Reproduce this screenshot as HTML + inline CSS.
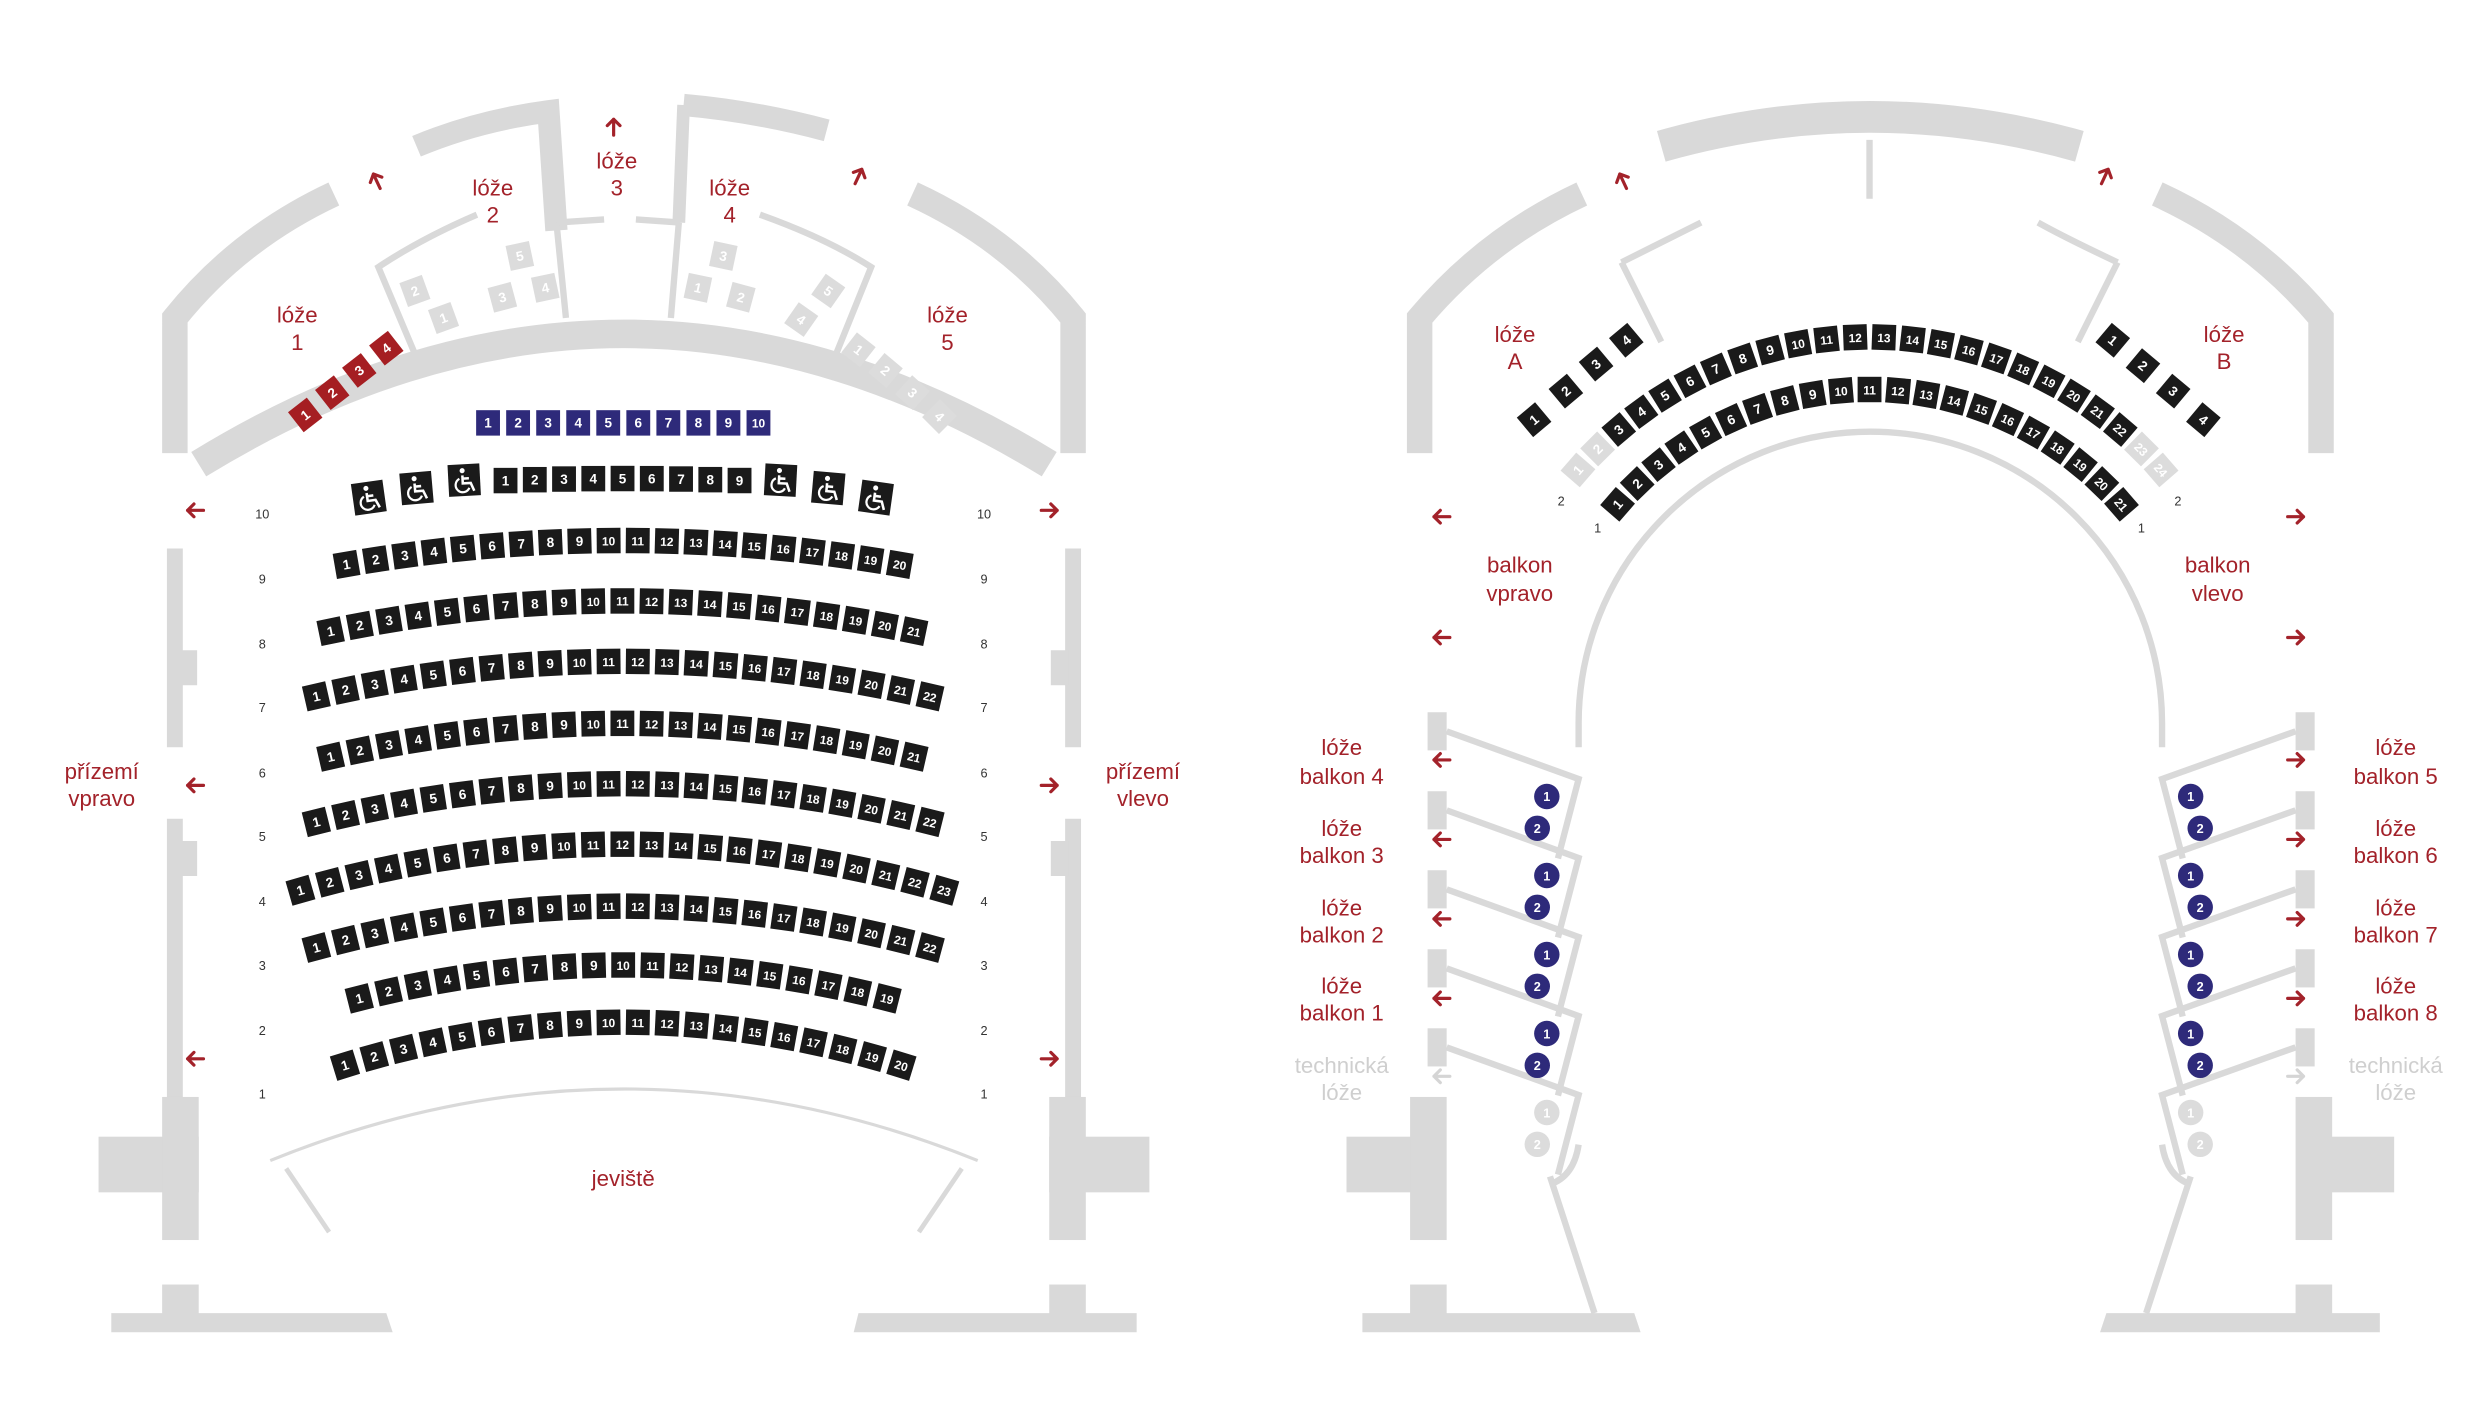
<!DOCTYPE html>
<html><head><meta charset="utf-8"><style>
html,body{margin:0;padding:0;background:#fff;width:2480px;height:1403px;overflow:hidden}
svg{display:block}
text{font-family:"Liberation Sans",sans-serif}
.lb{fill:#a3222a;font-size:14px;text-anchor:middle}
.gl{fill:#cfcfcf;font-size:14px;text-anchor:middle}
.rn{fill:#333;font-size:8px;text-anchor:middle}
</style></head><body>
<svg id="s" width="2480" height="1403" viewBox="0 0 1560 882.5" xmlns="http://www.w3.org/2000/svg">
<g fill="none" stroke="#d9d9d9" stroke-linejoin="miter">
<path d="M210,122 Q150,150 110,200 L110,285" stroke-width="16"/>
<path d="M574,122 Q635,150 675,200 L675,285" stroke-width="16"/>
<path d="M262,92 Q300,76 345,70 L350,145" stroke-width="14"/>
<path d="M430,66 Q475,70 520,82" stroke-width="14"/>
<path d="M430,66 L427,140" stroke-width="8"/>
<path d="M350,140 L380,138 M400,138 L428,140" stroke-width="4"/>
<path d="M350,140 L356,200 M427,140 L422,200" stroke-width="4"/>
<path d="M300,135 Q265,150 238,168 L262,225" stroke-width="4"/>
<path d="M478,135 Q520,150 548,168 L525,225" stroke-width="4"/>
<path d="M125,292 Q392,128 660,292" stroke-width="18"/>
<path d="M110,345 L110,470 M110,515 L110,690 M675,345 L675,470 M675,515 L675,690" stroke-width="10"/>
<path d="M113,420 L124,420 M113,540 L124,540 M672,420 L661,420 M672,540 L661,540" stroke-width="22"/>
<path d="M170,730 Q392,640 615,730" stroke-width="2"/>
<path d="M180,735 L207,775 M605,735 L578,775" stroke-width="3"/>
<path d="M995,122 Q935,150 893,200 L893,285" stroke-width="16"/>
<path d="M1357,122 Q1418,150 1460,200 L1460,285" stroke-width="16"/>
<path d="M1045,92 Q1176,55 1308,92" stroke-width="20"/>
<path d="M1176,88 L1176,125" stroke-width="4"/>
<path d="M1020,165 Q1050,150 1070,140 M1020,165 L1045,215 M1332,165 Q1300,150 1282,140 M1332,165 L1307,215" stroke-width="4"/>
<path d="M993,470 L993,455 A183,183 0 0 1 1360,455 L1360,470" stroke-width="4"/>
</g>
<g fill="#d9d9d9">
<rect x="62" y="715" width="63" height="35"/><rect x="102" y="690" width="23" height="90"/>
<rect x="102" y="808" width="23" height="20"/><polygon points="70,826 243,826 247,838 70,838"/>
<rect x="660" y="715" width="63" height="35"/><rect x="660" y="690" width="23" height="90"/>
<rect x="660" y="808" width="23" height="20"/><polygon points="540,826 715,826 715,838 537,838"/>
<rect x="847" y="715" width="60" height="35"/><rect x="887" y="690" width="23" height="90"/>
<rect x="887" y="808" width="23" height="20"/><polygon points="857,826 1028,826 1032,838 857,838"/>
<rect x="1446" y="715" width="60" height="35"/><rect x="1444" y="690" width="23" height="90"/>
<rect x="1444" y="808" width="23" height="20"/><polygon points="1325,826 1497,826 1497,838 1321,838"/>
</g>
<g id="boxes" fill="none" stroke="#d9d9d9" stroke-width="4"></g>
<g id="seats"></g>
<g id="arrows" fill="none" stroke-width="2" stroke-linecap="round" stroke-linejoin="round"></g>
<g class="lb">
<text x="187" y="203">lóže</text><text x="187" y="220">1</text>
<text x="310" y="123">lóže</text><text x="310" y="140">2</text>
<text x="388" y="106">lóže</text><text x="388" y="123">3</text>
<text x="459" y="123">lóže</text><text x="459" y="140">4</text>
<text x="596" y="203">lóže</text><text x="596" y="220">5</text>
<text x="64" y="490">přízemí</text><text x="64" y="507">vpravo</text>
<text x="719" y="490">přízemí</text><text x="719" y="507">vlevo</text>
<text x="392" y="746">jeviště</text>
<text x="953" y="215">lóže</text><text x="953" y="232">A</text>
<text x="1399" y="215">lóže</text><text x="1399" y="232">B</text>
<text x="956" y="360">balkon</text><text x="956" y="378">vpravo</text>
<text x="1395" y="360">balkon</text><text x="1395" y="378">vlevo</text>
<text x="844" y="475">lóže</text><text x="844" y="493">balkon 4</text>
<text x="844" y="526">lóže</text><text x="844" y="543">balkon 3</text>
<text x="844" y="576">lóže</text><text x="844" y="593">balkon 2</text>
<text x="844" y="625">lóže</text><text x="844" y="642">balkon 1</text>
<text x="1507" y="475">lóže</text><text x="1507" y="493">balkon 5</text>
<text x="1507" y="526">lóže</text><text x="1507" y="543">balkon 6</text>
<text x="1507" y="576">lóže</text><text x="1507" y="593">balkon 7</text>
<text x="1507" y="625">lóže</text><text x="1507" y="642">balkon 8</text>
</g>
<g class="gl"><text x="844" y="675">technická</text><text x="844" y="692">lóže</text>
<text x="1507" y="675">technická</text><text x="1507" y="692">lóže</text></g>
<g class="rn">
<text x="165" y="326">10</text><text x="165" y="367">9</text><text x="165" y="408">8</text><text x="165" y="448">7</text><text x="165" y="489">6</text><text x="165" y="529">5</text><text x="165" y="570">4</text><text x="165" y="610">3</text><text x="165" y="651">2</text><text x="165" y="691">1</text>
<text x="619" y="326">10</text><text x="619" y="367">9</text><text x="619" y="408">8</text><text x="619" y="448">7</text><text x="619" y="489">6</text><text x="619" y="529">5</text><text x="619" y="570">4</text><text x="619" y="610">3</text><text x="619" y="651">2</text><text x="619" y="691">1</text>
<text x="982" y="318">2</text><text x="1005" y="335">1</text><text x="1370" y="318">2</text><text x="1347" y="335">1</text>
</g>
</svg>
<script>
var NS="http://www.w3.org/2000/svg",S=document.getElementById("seats"),B=document.getElementById("boxes"),A=document.getElementById("arrows");
function el(t,a,p){var e=document.createElementNS(NS,t);for(var k in a)e.setAttribute(k,a[k]);(p||S).appendChild(e);return e;}
function seat(x,y,a,n,f,tc,w,h,wc){w=w||15;h=h||16;var g=el("g",{transform:"translate("+x+","+y+") rotate("+a+")"});
el("rect",{x:-w/2,y:-h/2,width:w,height:h,fill:f},g);
if(wc){el("circle",{cx:-1,cy:-6,r:1.6,fill:"#fff"},g);
el("path",{d:"M-1,-3 L-1,2 L4,2 L6,7 M-1,-1 L3,-1",fill:"none",stroke:"#fff","stroke-width":1.6},g);
el("path",{d:"M-3,-1 A4.5,4.5 0 1 0 3,5",fill:"none",stroke:"#fff","stroke-width":1.4},g);return;}
var t=el("text",{x:0,y:3,"text-anchor":"middle","font-size":String(n).length>1?7.5:8.5,"font-weight":"bold",fill:tc||"#fff"},g);t.textContent=n;}
function circ(x,y,n,f){el("circle",{cx:x,cy:y,r:8,fill:f});var t=el("text",{x:x,y:y+3,"text-anchor":"middle","font-size":8,"font-weight":"bold",fill:"#fff"});t.textContent=n;}
function arrow(x,y,ang,c){var g=el("g",{transform:"translate("+x+","+y+") rotate("+ang+")",stroke:c||"#a3222a"},A);
el("path",{d:"M-5,0 L5,0 M1,-4 L5,0 L1,4"},g);}
var rows=[[20,218,566,340,355],[21,208,575,378,397],[22,199,585,416,438],[21,208,575,455,476],[22,199,585,493,517],[23,189,594,531,560],[22,199,585,570,596],[19,226,558,607,628],[20,217,567,643,670]];
rows.forEach(function(r){var n=r[0],x1=r[1],x2=r[2],c=(x1+x2)/2,h=(x2-x1)/2,k=(r[4]-r[3])/(h*h);
for(var i=0;i<n;i++){var x=x1+(x2-x1)*i/(n-1),dx=x-c;seat(x,r[3]+k*dx*dx,Math.atan(2*k*dx)*180/Math.PI,i+1,"#1a1a1a");}});
for(var i=0;i<9;i++){var x=318+i*18.4;seat(x,301+Math.pow((x-392)/80,2)*1.5,0,i+1,"#1a1a1a");}
[[232,313,-8],[262,307,-5],[292,302,-3],[491,302,3],[521,307,5],[551,313,8]].forEach(function(p){seat(p[0],p[1],p[2],"","#1a1a1a","#fff",20,20,1);});
for(var i=0;i<10;i++)seat(307+i*18.9,266,0,i+1,"#2e2a7a");
[[192,261],[209,247],[226,233],[243,219]].forEach(function(p,i){seat(p[0],p[1],-38,i+1,"#a51e22");});
var G="#dcdcdc";
[[279,200,1,-20],[261,183,2,-20],[316,187,3,-15],[343,181,4,-12],[327,161,5,-12],[439,181,1,12],[466,187,2,15],[455,161,3,12],[504,201,4,35],[521,183,5,35],[540,220,1,38],[557,233,2,40],[574,247,3,42],[591,262,4,45]].forEach(function(p){seat(p[0],p[1],p[3],p[2],G);});
function arc(R,n,fn){for(var i=0;i<n;i++){var th=(-49+98*i/(n-1))*Math.PI/180;var x=1176+R*Math.sin(th),y=455-R*Math.cos(th);fn(x,y,th*180/Math.PI,i+1);}}
arc(243,24,function(x,y,a,n){seat(x,y,a,n,(n<=2||n>=23)?G:"#1a1a1a");});
arc(210,21,function(x,y,a,n){seat(x,y,a,n,"#1a1a1a");});
[[965,264],[985,246],[1004,229],[1023,214]].forEach(function(p,i){seat(p[0],p[1],-40,i+1,"#1a1a1a");});
[[1329,214],[1348,230],[1367,246],[1386,264]].forEach(function(p,i){seat(p[0],p[1],40,i+1,"#1a1a1a");});
for(var j=0;j<5;j++){var y=501+j*49.7,f=j<4?"#2e2a7a":G;
circ(973,y,1,f);circ(967,y+20,2,f);circ(1378,y,1,f);circ(1384,y+20,2,f);
var yt=460+j*49.7;
el("path",{d:"M910,"+yt+" L993,"+(yt+30)+" L980,"+(yt+80)},B);
el("path",{d:"M1444,"+yt+" L1360,"+(yt+30)+" L1373,"+(yt+80)},B);
el("rect",{x:898,y:yt-12,width:12,height:24,fill:"#d9d9d9",stroke:"none"},B);
el("rect",{x:1444,y:yt-12,width:12,height:24,fill:"#d9d9d9",stroke:"none"},B);}
el("path",{d:"M975,740 L1003,826 M1378,740 L1350,826 M975,745 Q990,740 993,720 M1378,745 Q1363,740 1360,720"},B);
[[123,321,180],[123,494,180],[123,666,180],[660,321,0],[660,494,0],[660,666,0],[386,80,-90],[237,114,-115],[540,111,-65],[1021,114,-115],[1324,111,-65],
[907,325,180],[907,401,180],[907,478,180],[907,528,180],[907,578,180],[907,628,180],
[1444,325,0],[1444,401,0],[1444,478,0],[1444,528,0],[1444,578,0],[1444,628,0]].forEach(function(a){arrow(a[0],a[1],a[2]);});
arrow(907,677,180,"#d5d5d5");arrow(1444,677,0,"#d5d5d5");
</script>
</body></html>
